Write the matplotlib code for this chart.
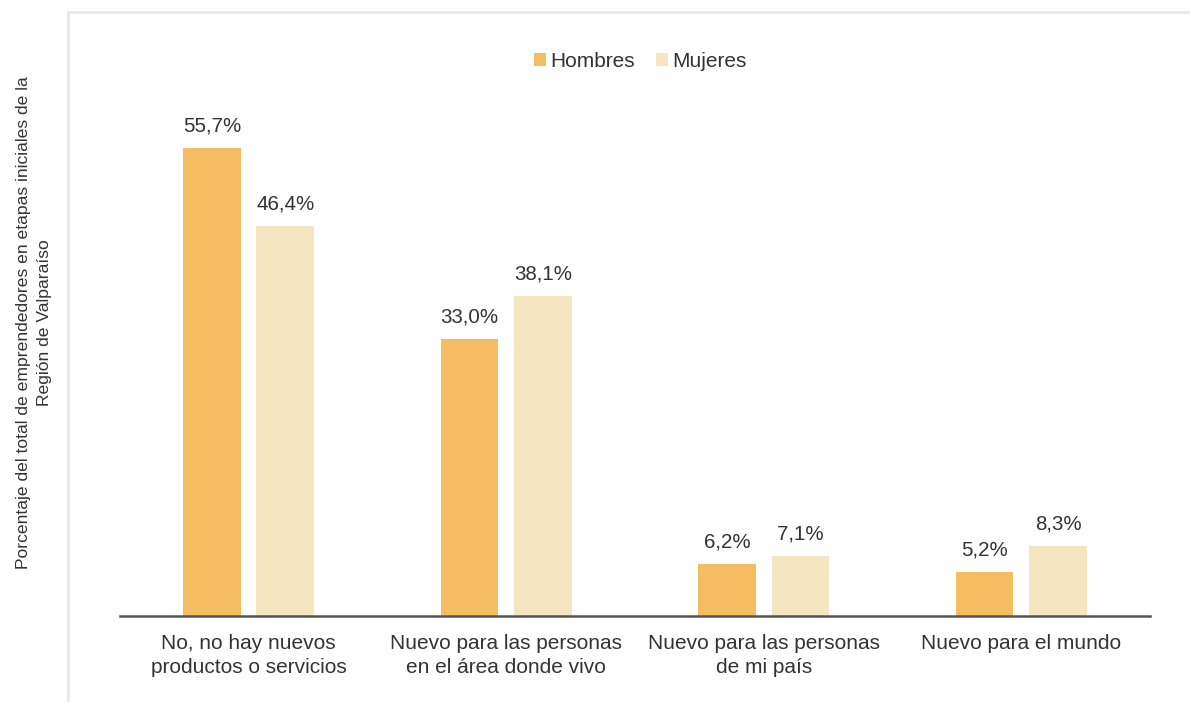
import numpy as np
import matplotlib.pyplot as plt
from matplotlib.patches import Rectangle

plt.rcParams['font.family'] = ['Liberation Sans', 'DejaVu Sans']

# Datos
categorias = ['No, no hay nuevos\nproductos o servicios',
              'Nuevo para las personas\nen el área donde vivo',
              'Nuevo para las personas\nde mi país',
              'Nuevo para el mundo']
hombres = [55.7, 33.0, 6.2, 5.2]
mujeres = [46.4, 38.1, 7.1, 8.3]

col_h = '#F4BD62'
col_m = '#F5E6C2'
texto = '#333333'

fig = plt.figure(figsize=(11.9, 7.02), dpi=100)
ax = fig.add_axes([0.1008, 0.1225, 0.8656, 0.8205])

# Marco gris claro
fig.add_artist(Rectangle((68 / 1190, -0.05), 1.2, 1 - 11.5 / 702 + 0.05,
                         transform=fig.transFigure, fill=False,
                         edgecolor='#e8e8e8', linewidth=2.2))

x = np.arange(len(categorias))
ancho = 0.225
desp = 0.1427
b1 = ax.bar(x - desp, hombres, ancho, color=col_h, label='Hombres')
b2 = ax.bar(x + desp, mujeres, ancho, color=col_m, label='Mujeres')

for barras in (b1, b2):
    for b in barras:
        v = b.get_height()
        ax.annotate(f'{v:.1f}%'.replace('.', ','),
                    (b.get_x() + b.get_width() / 2, v),
                    xytext=(0, 9), textcoords='offset points',
                    ha='center', va='bottom', fontsize=14.8, color=texto)

ax.set_xlim(-0.5, len(categorias) - 0.5)
ax.set_ylim(0, 68.57)
ax.set_xticks(x)
ax.set_xticklabels(categorias, fontsize=15, color=texto, linespacing=1.32)
ax.tick_params(axis='x', length=0, pad=13)
ax.set_yticks([])
for s in ['top', 'right', 'left']:
    ax.spines[s].set_visible(False)
ax.spines['bottom'].set_color('#555555')
ax.spines['bottom'].set_linewidth(1.8)

fig.text(34 / 1190, 0.541,
         'Porcentaje del total de emprendedores en etapas iniciales de la\nRegión de Valparaíso',
         rotation=90, ha='center', va='center', ma='center',
         fontsize=12.6, color=texto, linespacing=1.55)

ax.legend(loc='center', bbox_to_anchor=(0.505, 0.9635), ncol=2, frameon=False,
          fontsize=15, handlelength=0.6, handleheight=0.6, handletextpad=0.2,
          columnspacing=1.0, labelcolor=texto)

fig.savefig('out.png', dpi=100)
